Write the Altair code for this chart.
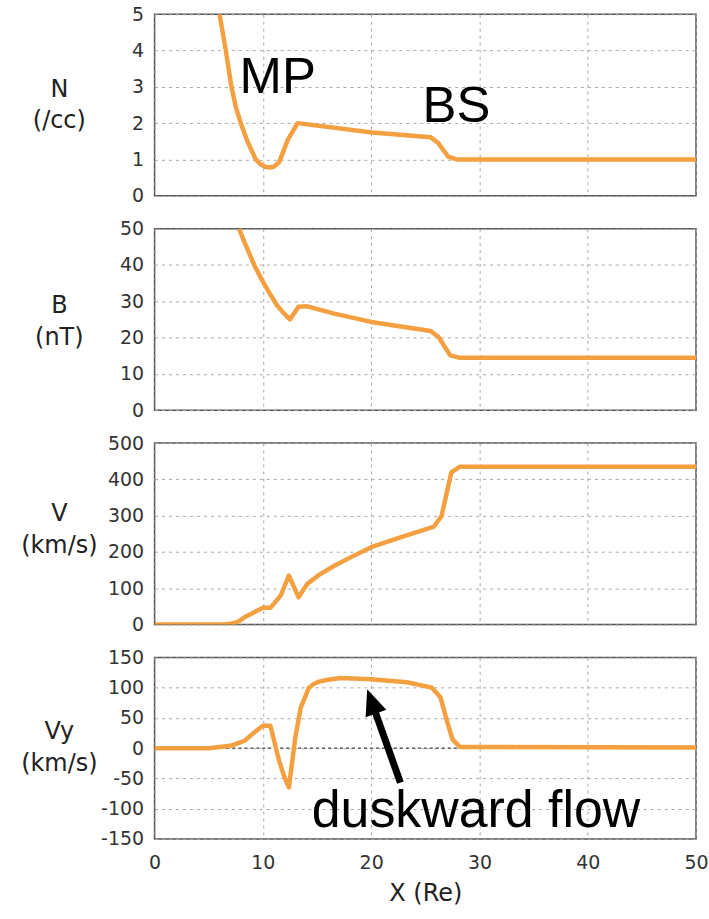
import altair as alt
import pandas as pd

# ---------------- data ----------------
x_ticks = [0, 10, 20, 30, 40, 50]

n_x = [6.0, 6.58, 7.1, 7.5, 7.96, 8.57, 9.34, 9.8, 10.2, 10.6, 11.0, 11.5, 12.3, 13.2, 20.1, 25.5, 26.2, 27.1, 27.9, 50.0]
n_y = [5.0, 4.0, 3.0, 2.45, 2.0, 1.5, 1.0, 0.86, 0.8, 0.78, 0.8, 0.92, 1.54, 2.0, 1.74, 1.61, 1.45, 1.08, 1.0, 1.0]
n_ticks = [0, 1, 2, 3, 4, 5]

b_x = [7.8, 8.2, 8.6, 9.2, 10.0, 10.6, 11.3, 11.9, 12.5, 13.3, 14.1, 16.6, 20.0, 25.5, 26.2, 27.3, 28.2, 50.0]
b_y = [50.0, 47.0, 44.2, 40.0, 35.4, 32.3, 28.9, 26.8, 25.0, 28.5, 28.6, 26.6, 24.3, 21.8, 20.2, 15.1, 14.4, 14.4]
b_ticks = [0, 10, 20, 30, 40, 50]

v_x = [0, 5.0, 6.5, 7.0, 7.5, 7.9, 8.3, 9.2, 10.0, 10.7, 11.65, 12.4, 13.3, 14.1, 15.3, 16.6, 18.1, 20.0, 22.7, 25.8, 26.5, 27.4, 28.2, 50.0]
v_y = [0, 0, 1, 2, 5, 11, 20, 34, 46, 46, 80, 135, 75, 112, 139, 162, 185, 213, 240, 270, 299, 419, 435, 435]
v_ticks = [0, 100, 200, 300, 400, 500]

vy_x = [0, 5.0, 7.0, 8.3, 9.2, 10.0, 10.7, 11.5, 12.0, 12.4, 13.0, 13.5, 14.25, 14.7, 15.2, 16.0, 17.2, 20.0, 23.3, 25.6, 26.4, 27.0, 27.5, 28.2, 50.0]
vy_y = [0, 0, 4, 12, 26, 37, 37, -21, -48, -65, 18, 67, 100, 106, 110, 113, 116, 114, 109, 100, 84, 45, 15, 2, 1]
vy_ticks = [-150, -100, -50, 0, 50, 100, 150]

n_labels = ["MP", "BS"]
n_label_x = [11.37, 27.88]
n_label_y = [2.84, 2.04]

flow_label = ["duskward flow"]
flow_label_x = [29.68]
flow_label_y = [-131]

arrow_tail = [22.7, -57]
arrow_shaft_end = [20.04, 77]
arrow_head = [20.04, 77.4]

# ---------------- styling ----------------
AX_FONT = "DejaVu Sans"
ANN_FONT = "Liberation Sans"
ORANGE = "#F5A040"
GRID = "#a8a8a8"


def x_enc(show):
    if show:
        ax = alt.Axis(values=x_ticks, grid=True, gridDash=[3, 4], gridColor=GRID,
                      ticks=False, domain=False, labelFlush=False,
                      labelFont=AX_FONT, labelFontSize=19, labelColor="#333",
                      labelPadding=15, title="X (Re)", titleFont=AX_FONT,
                      titleFontSize=24, titleFontWeight="normal", titleColor="#222",
                      titlePadding=9)
    else:
        ax = alt.Axis(values=x_ticks, grid=True, gridDash=[3, 4], gridColor=GRID,
                      ticks=False, domain=False, labels=False, title=None)
    return alt.X("x:Q", scale=alt.Scale(domain=[0, 50], nice=False, zero=False), axis=ax)


def y_enc(dom, ticks, title, ty):
    ax = alt.Axis(values=ticks, grid=True, gridDash=[3, 4], gridColor=GRID,
                  ticks=False, domain=False, labelFont=AX_FONT, labelFontSize=19,
                  labelColor="#333", labelPadding=11, labelExpr="datum.value",
                  title=title, titleAngle=0, titleAlign="center", titleBaseline="middle",
                  titleX=-96, titleY=ty, titleFont=AX_FONT, titleFontSize=24,
                  titleFontWeight="normal", titleColor="#222", titleLineHeight=32)
    return alt.Y("y:Q", scale=alt.Scale(domain=dom, nice=False, zero=False), axis=ax)


def curve(xs, ys, X, Y):
    df = pd.DataFrame({"x": xs, "y": ys})
    return alt.Chart(df).mark_line(color=ORANGE, strokeWidth=4.5, clip=True,
                                   strokeJoin="round").encode(x=X, y=Y)


W, H = 543, 182

# Panel 1: N
X1 = x_enc(False)
Y1 = y_enc([0, 5], n_ticks, ["N", "(/cc)"], 75)
p1_text = alt.Chart(pd.DataFrame({"x": n_label_x, "y": n_label_y, "label": n_labels})).mark_text(
    font=ANN_FONT, fontSize=51, align="center", baseline="alphabetic", color="black"
).encode(x=X1, y=Y1, text="label:N")
p1 = alt.layer(curve(n_x, n_y, X1, Y1), p1_text).properties(width=W, height=H)

# Panel 2: B
X2 = x_enc(False)
Y2 = y_enc([0, 50], b_ticks, ["B", "(nT)"], 77)
p2 = alt.layer(curve(b_x, b_y, X2, Y2)).properties(width=W, height=H)

# Panel 3: V
X3 = x_enc(False)
Y3 = y_enc([0, 500], v_ticks, ["V", "(km/s)"], 71)
p3 = alt.layer(curve(v_x, v_y, X3, Y3)).properties(width=W, height=H)

# Panel 4: Vy
X4 = x_enc(True)
Y4 = y_enc([-150, 150], vy_ticks, ["Vy", "(km/s)"], 74)
zero_rule = alt.Chart(pd.DataFrame({"y": [0]})).mark_rule(
    color="#444", strokeDash=[3, 3], strokeWidth=1.2
).encode(y=Y4)
arrow_df = pd.DataFrame({"x": [arrow_tail[0]], "y": [arrow_tail[1]],
                         "x2": [arrow_shaft_end[0]], "y2": [arrow_shaft_end[1]]})
shaft = alt.Chart(arrow_df).mark_rule(color="black", strokeWidth=7, strokeCap="butt").encode(
    x=X4, y=Y4, x2="x2:Q", y2="y2:Q")
head = alt.Chart(pd.DataFrame({"x": [arrow_head[0]], "y": [arrow_head[1]]})).mark_point(
    shape="M0,-1L-0.85,1L0.85,1Z", size=676, filled=True, color="black", opacity=1,
    strokeWidth=0, angle=340.4
).encode(x=X4, y=Y4)
flow_text = alt.Chart(pd.DataFrame({"x": flow_label_x, "y": flow_label_y, "label": flow_label})).mark_text(
    font=ANN_FONT, fontSize=52, align="center", baseline="alphabetic", color="black"
).encode(x=X4, y=Y4, text="label:N")
p4 = alt.layer(zero_rule, curve(vy_x, vy_y, X4, Y4), shaft, head, flow_text).properties(width=W, height=H)

chart = alt.vconcat(p1, p2, p3, p4, spacing=33, bounds="flush").properties(
    padding={"left": 19, "top": 3, "right": 0, "bottom": 5},
    background="white",
).configure_view(stroke="#555", strokeWidth=1.5)

chart.save("out.html", embed_options={"renderer": "svg", "actions": False})
